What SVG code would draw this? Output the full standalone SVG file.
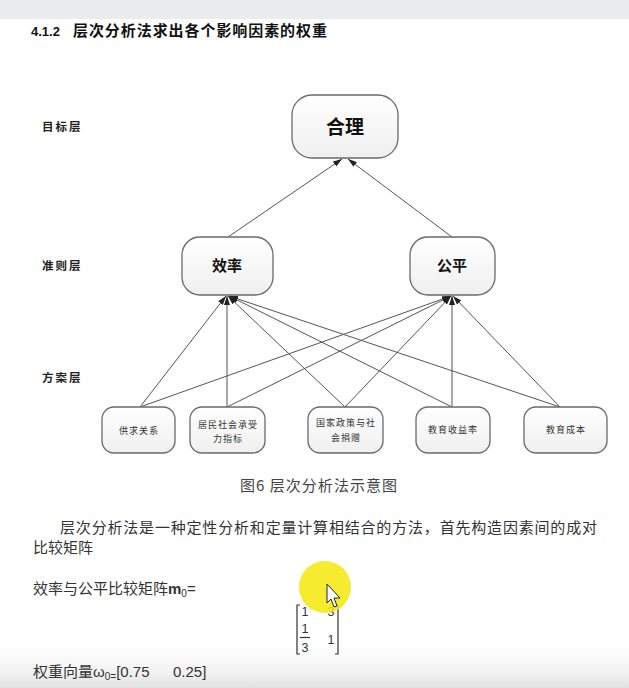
<svg xmlns="http://www.w3.org/2000/svg" width="629" height="688" viewBox="0 0 629 688">
<defs>
<linearGradient id="nodeFill" x1="0" y1="0" x2="0" y2="1">
<stop offset="0" stop-color="#ffffff"/>
<stop offset="1" stop-color="#efefef"/>
</linearGradient>
<linearGradient id="bottomFade" x1="0" y1="0" x2="0" y2="1">
<stop offset="0" stop-color="#ffffff" stop-opacity="0"/>
<stop offset="1" stop-color="#e2e2e2" stop-opacity="1"/>
</linearGradient>
<marker id="arr" markerUnits="userSpaceOnUse" markerWidth="9" markerHeight="6" refX="9" refY="3" orient="auto">
<path d="M0,0 L9,3 L0,6 z" fill="#222"/>
</marker>
</defs>
<style>
.node rect{fill:url(#nodeFill);stroke:#6a6a6a;stroke-width:1.3}
.cjk{font-family:"Noto Sans CJK SC","Liberation Sans",sans-serif}
.big{font-size:19px;fill:#111;text-anchor:middle;font-weight:bold}
.mid{font-size:15px;fill:#111;text-anchor:middle;font-weight:bold}
.small{font-size:9px;fill:#333;text-anchor:middle;letter-spacing:1px}
.layer{font-size:11.5px;fill:#222;font-weight:bold;letter-spacing:2px}
.body{font-size:15px;fill:#333}
.num{font-family:"Liberation Sans",sans-serif;fill:#333}
#connectors line{stroke:#555;stroke-width:1;marker-end:url(#arr)}
</style>
<rect x="0" y="0" width="629" height="688" fill="#ffffff"/>
<rect x="0" y="0" width="629" height="19" fill="#eaeded"/>
<rect x="0" y="636" width="629" height="52" fill="url(#bottomFade)"/>
<text x="31" y="36" font-family="Liberation Sans, sans-serif" font-size="13" font-weight="bold" fill="#111">4.1.2<tspan x="73" class="cjk" font-size="15" textLength="254" lengthAdjust="spacing">层次分析法求出各个影响因素的权重</tspan></text>

<g id="layer-labels" class="cjk">
<text class="layer" x="42" y="131">目标层</text>
<text class="layer" x="42" y="270">准则层</text>
<text class="layer" x="42" y="382">方案层</text>
</g>

<g id="connectors">
<line x1="228" y1="237" x2="342" y2="159"/>
<line x1="452" y1="237" x2="348" y2="159"/>
<line x1="140" y1="407" x2="226" y2="296"/>
<line x1="140" y1="407" x2="451" y2="296"/>
<line x1="227" y1="407" x2="227" y2="296"/>
<line x1="227" y1="407" x2="451" y2="296"/>
<line x1="345" y1="407" x2="228" y2="296"/>
<line x1="345" y1="407" x2="451" y2="296"/>
<line x1="452" y1="407" x2="229" y2="296"/>
<line x1="452" y1="407" x2="452" y2="296"/>
<line x1="560" y1="407" x2="229" y2="296"/>
<line x1="560" y1="407" x2="453" y2="296"/>
</g>

<g id="node-heli" class="node">
<rect x="292" y="95" width="106" height="63" rx="20"/>
<text class="cjk big" x="345" y="134">合理</text>
</g>
<g id="node-xiaolv" class="node">
<rect x="182" y="237" width="91" height="58" rx="18"/>
<text class="cjk mid" x="227" y="271" font-size="16">效率</text>
</g>
<g id="node-gongping" class="node">
<rect x="410" y="237" width="85" height="58" rx="18"/>
<text class="cjk mid" x="452" y="271" font-size="14">公平</text>
</g>
<g id="node-gongqiu" class="node">
<rect x="102" y="407" width="73" height="46" rx="12"/>
<text class="cjk small" x="139" y="434">供求关系</text>
</g>
<g id="node-jumin" class="node">
<rect x="190" y="407" width="75" height="46" rx="12"/>
<text class="cjk small" x="228" y="428">居民社会承受</text>
<text class="cjk small" x="228" y="442">力指标</text>
</g>
<g id="node-guojia" class="node">
<rect x="308" y="407" width="75" height="46" rx="12"/>
<text class="cjk small" x="346" y="426">国家政策与社</text>
<text class="cjk small" x="346" y="441">会捐赠</text>
</g>
<g id="node-shouyi" class="node">
<rect x="416" y="407" width="74" height="46" rx="12"/>
<text class="cjk small" x="453" y="433">教育收益率</text>
</g>
<g id="node-chengben" class="node">
<rect x="524" y="407" width="83" height="46" rx="12"/>
<text class="cjk small" x="566" y="433">教育成本</text>
</g>

<text class="cjk" x="240" y="491" font-size="15" fill="#444" textLength="157" lengthAdjust="spacing">图6 层次分析法示意图</text>

<text class="cjk body" x="60" y="533" textLength="537" lengthAdjust="spacing">层次分析法是一种定性分析和定量计算相结合的方法，首先构造因素间的成对</text>
<text class="cjk body" x="33" y="553">比较矩阵</text>
<text class="cjk body" x="33" y="594" font-size="15.5">效率与公平比较矩阵<tspan font-family="Liberation Sans, sans-serif" font-weight="bold">m</tspan><tspan font-family="Liberation Sans, sans-serif" font-size="10" dy="3">0</tspan><tspan font-family="Liberation Sans, sans-serif" dy="-3">=</tspan></text>

<g id="matrix" class="num" font-size="12.5">
<path d="M300,605 H297 V654 H300" fill="none" stroke="#333" stroke-width="1.2"/>
<path d="M335,605 H338 V654 H335" fill="none" stroke="#333" stroke-width="1.2"/>
<text x="305" y="616" text-anchor="middle">1</text>
<text x="331" y="616" text-anchor="middle">3</text>
<text x="305" y="633" text-anchor="middle">1</text>
<line x1="300" y1="637.5" x2="310" y2="637.5" stroke="#333" stroke-width="1.2"/>
<text x="305" y="652" text-anchor="middle">3</text>
<text x="331" y="644" text-anchor="middle">1</text>
</g>

<g id="highlight">
<circle cx="325" cy="587" r="26" fill="#f5e70a" fill-opacity="0.85"/>
<path d="M327,584 L327,603 L331,599 L334,607 L337,606 L334,598 L340,598 Z" fill="#ffffff" stroke="#222" stroke-width="1"/>
</g>

<text class="cjk body" x="33" y="677">权重向量<tspan font-family="Liberation Sans, sans-serif">ω</tspan><tspan font-family="Liberation Sans, sans-serif" font-size="10" dy="3">0=</tspan><tspan font-family="Liberation Sans, sans-serif" dy="-3">[0.75</tspan><tspan font-family="Liberation Sans, sans-serif" x="173">0.25]</tspan></text>
</svg>
